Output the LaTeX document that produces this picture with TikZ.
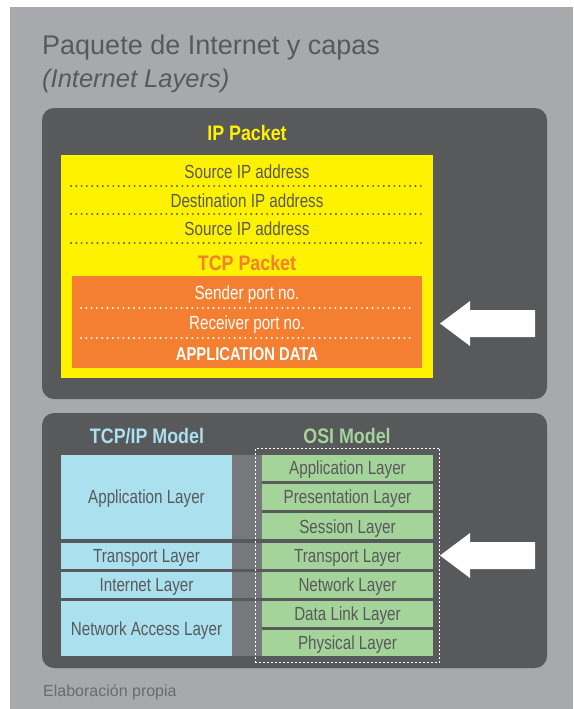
\documentclass[tikz,border=0pt]{standalone}
\usepackage{fontspec}
\setmainfont{Liberation Sans}
\newfontfamily\narrowfont[FakeStretch=0.8]{Liberation Sans}
\newfontfamily\headfont[FakeStretch=0.85]{Liberation Sans}
\usetikzlibrary{fit}
\definecolor{bggray}{HTML}{A7A9AC}
\definecolor{boxgray}{HTML}{58595B}
\definecolor{bandgray}{HTML}{77787B}
\definecolor{ipyellow}{HTML}{FFF200}
\definecolor{tcporange}{HTML}{F47F30}
\definecolor{tcpblue}{HTML}{ABE0EE}
\definecolor{osigreen}{HTML}{A5D49B}
\definecolor{notegray}{HTML}{6A6B6E}
\tikzset{
  panel/.style={fill=boxgray, rounded corners=12pt},
  field/.style={font=\narrowfont\fontsize{19}{22}\selectfont, text=boxgray, anchor=base, inner sep=0pt},
  head/.style={font=\headfont\bfseries\fontsize{21}{24}\selectfont, anchor=base, inner sep=0pt},
  sepdots/.style={line width=2.1pt, dash pattern=on 0pt off 5.3pt, line cap=round},
  layer/.style={font=\narrowfont\fontsize{19}{22}\selectfont, text=boxgray, inner sep=0pt,
    text height=13.6pt, text depth=0pt, minimum width=171pt},
  bigarrow/.style={fill=white},
}

\begin{document}
\begin{tikzpicture}[x=1pt, y=-1pt]
\useasboundingbox (0,0) rectangle (573,709);
\fill[bggray] (10,7) rectangle (573,709);
\node[anchor=base west, inner sep=0pt, text=boxgray, font=\fontsize{27}{30}\selectfont] (title) at (42,55) {Paquete de Internet y capas};
\node[anchor=base west, inner sep=0pt, text=boxgray, font=\itshape\fontsize{25.5}{30}\selectfont] (subtitle) at (42,88) {(Internet Layers)};

\fill[panel] (42,108) rectangle (547,399);
\fill[panel] (42,413) rectangle (547,668);

% IP packet
\node[head, text=ipyellow] (iphead) at (247,140) {IP Packet};
\node[fill=ipyellow, minimum width=372pt, minimum height=223pt, inner sep=0pt] (ipbox) at (247,266.5) {};
\node[field] (src) at (247,178.3) {Source IP address};
\node[field] (dst) at (247,207) {Destination IP address};
\node[field] (srcb) at (247,235) {Source IP address};
\foreach \y in {186,214,243}
\draw[sepdots, boxgray] (71,\y) -- (422,\y);

\node[head, text=tcporange] (tcphead) at (247,270) {TCP Packet};
\node[fill=tcporange, minimum width=350pt, minimum height=92pt, inner sep=0pt] (tcpbox) at (247,322) {};
\node[field, text=white] (sender) at (247,299) {Sender port no.};
\node[field, text=white] (receiver) at (247,329) {Receiver port no.};
\node[field, text=white, font=\narrowfont\bfseries\fontsize{18.5}{22}\selectfont] (appdata) at (247,360) {APPLICATION DATA};
\foreach \y in {308,338}
\draw[sepdots, white] (81,\y) -- (412,\y);

% models
\node[head, text=tcpblue] (tcpiphead) at (147,443) {TCP/IP Model};
\node[head, text=osigreen] (osihead) at (347,443) {OSI Model};

\foreach \y/\h/\name [count=\i] in {497/84/Application Layer, 556/26/Transport Layer, 585/26/Internet Layer, 628.5/55/Network Access Layer} {
\node[layer, fill=tcpblue, minimum height=\h pt] (tcp\i) at (146.5,\y) {\name};
\fill[bandgray] (tcp\i.north east) rectangle ([xshift=30pt]tcp\i.south east);
}

\foreach \name [count=\i from 0] in {Application Layer, Presentation Layer, Session Layer, Transport Layer, Network Layer, Data Link Layer, Physical Layer}
\node[layer, fill=osigreen, minimum height=26pt] (osi\i) at (347.5,{468+29.17*\i}) {\name};

\node[draw=white, line width=1.2pt, dash pattern=on 2pt off 2pt, fit=(osi0)(osi6), inner sep=6.5pt] (osiframe) {};

\coordinate (iptip) at (440,323.5);
\coordinate (ositip) at (440,555.5);
\foreach \t in {iptip,ositip}
\fill[bigarrow] (\t) -- ++(30,-22.5) -- ++(0,9) -- ++(65,0) -- ++(0,27) -- ++(-65,0) -- ++(0,9) -- cycle;

\node[anchor=base west, inner sep=0pt, text=notegray, font=\fontsize{16}{19}\selectfont] (source) at (43,696) {Elaboración propia};
\end{tikzpicture}
\end{document}
